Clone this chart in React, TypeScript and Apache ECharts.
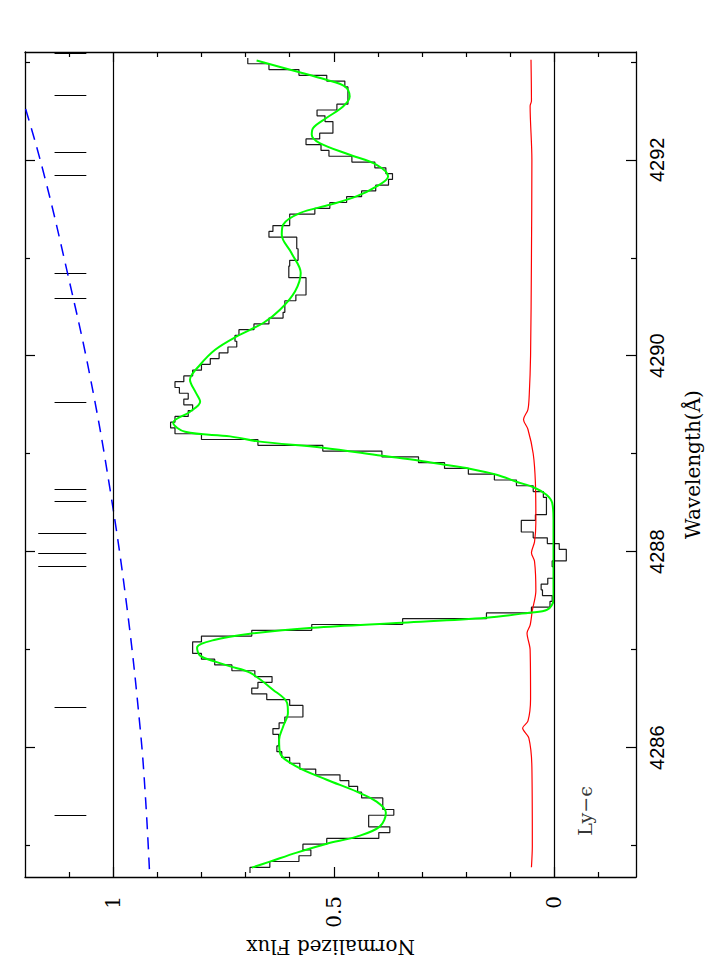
import { useEffect, useRef } from "react";
import * as echarts from "echarts";

// ---------- axes ----------
const fluxMin = -0.185;
const fluxMax = 1.2;
const waveMin = 4284.68;
const waveMax = 4293.1;
const fluxTicks = [0, 0.5, 1];
const fluxMinorTicks = [-0.1, 0.1, 0.2, 0.3, 0.4, 0.6, 0.7, 0.8, 0.9, 1.1];
const waveTicks = [4286, 4288, 4290, 4292];
const waveMinorTicks = [4285, 4287, 4289, 4291, 4293];

// ---------- observed spectrum (histogram, bins from blue to red) ----------
const histStart = 4284.72;
const histBin = 0.059;
const histFlux = [
  0.69, 0.645, 0.579, 0.552, 0.57, 0.516, 0.398, 0.373, 0.421, 0.421,
  0.364, 0.389, 0.389, 0.437, 0.446, 0.466, 0.486, 0.541, 0.577, 0.6,
  0.618, 0.629, 0.625, 0.625, 0.638, 0.624, 0.611, 0.57, 0.57, 0.6,
  0.652, 0.686, 0.672, 0.64, 0.679, 0.731, 0.77, 0.8, 0.82,
  0.82, 0.8, 0.686, 0.55, 0.344, 0.154, 0.052, 0.01, 0.005, 0.027,
  0.03, 0.015, 0.0, 0.0, 0.005, -0.027, -0.027, -0.011, 0.016, 0.048,
  0.075, 0.075, 0.043, 0.018, 0.018, 0.018, 0.025, 0.048, 0.086, 0.136,
  0.195, 0.249, 0.308, 0.391, 0.525, 0.672, 0.8, 0.86, 0.87, 0.86,
  0.83, 0.82, 0.84, 0.83, 0.85, 0.86, 0.84, 0.82, 0.8, 0.78,
  0.76, 0.74, 0.72, 0.724, 0.715, 0.681, 0.647, 0.615, 0.611, 0.611,
  0.586, 0.563, 0.563, 0.563, 0.602, 0.602, 0.6, 0.581, 0.581, 0.584,
  0.584, 0.647, 0.638, 0.6, 0.6, 0.543, 0.509, 0.471, 0.437, 0.405,
  0.376, 0.367, 0.382, 0.407, 0.459, 0.511, 0.529, 0.563, 0.532, 0.502,
  0.502, 0.52, 0.538, 0.493, 0.468, 0.468, 0.468, 0.475, 0.516, 0.579,
  0.647, 0.695,
];

// ---------- fitted model (green) ----------
const modelWave = [
  4293.013, 4292.901, 4292.816, 4292.748, 4292.646, 4292.544, 4292.426, 4292.323,
  4292.255, 4292.17, 4292.051, 4291.949, 4291.83, 4291.728, 4291.626, 4291.541,
  4291.456, 4291.337, 4291.235, 4291.048, 4290.844, 4290.656, 4290.469, 4290.334,
  4290.197, 4290.061, 4289.908, 4289.755, 4289.633, 4289.531, 4289.429, 4289.316,
  4289.224, 4289.177, 4289.126, 4289.061, 4288.98, 4288.929, 4288.888, 4288.847,
  4288.786, 4288.714, 4288.653, 4288.582, 4288.5, 4288.327, 4287.918, 4287.51,
  4287.408, 4287.378, 4287.327, 4287.276, 4287.224, 4287.163, 4287.102, 4287.02,
  4286.939, 4286.878, 4286.83, 4286.765, 4286.592, 4286.459, 4286.357, 4286.214,
  4286.082, 4285.949, 4285.806, 4285.673, 4285.551, 4285.449, 4285.337, 4285.194,
  4285.092, 4285.02, 4284.929, 4284.837, 4284.776,
];
const modelFlux = [
  0.675, 0.584, 0.517, 0.475, 0.464, 0.479, 0.517, 0.547,
  0.55, 0.532, 0.464, 0.403, 0.377, 0.403, 0.449, 0.509,
  0.577, 0.615, 0.618, 0.596, 0.575, 0.588, 0.622, 0.66,
  0.72, 0.769, 0.803, 0.826, 0.814, 0.803, 0.826, 0.864,
  0.837, 0.735, 0.672, 0.525, 0.391, 0.305, 0.249, 0.192,
  0.131, 0.086, 0.045, 0.018, 0.005, 0.002, 0.002, 0.002,
  0.016, 0.057, 0.154, 0.344, 0.548, 0.69, 0.769, 0.81,
  0.803, 0.769, 0.735, 0.69, 0.638, 0.606, 0.604, 0.615,
  0.624, 0.622, 0.584, 0.516, 0.448, 0.403, 0.382, 0.396,
  0.448, 0.516, 0.584, 0.645, 0.686,
];

// ---------- error spectrum (red) ----------
const errWave = [
  4293.02, 4292.6, 4292.55, 4292.0, 4291.0, 4290.0, 4289.6, 4289.45, 4289.35,
  4289.25, 4289.0, 4288.7, 4288.3, 4288.1, 4287.99, 4287.9, 4287.6, 4287.4,
  4287.25, 4287.17, 4287.0, 4286.5, 4286.27, 4286.2, 4286.1, 4285.8, 4285.0, 4284.78,
];
const errFlux = [
  0.053, 0.052, 0.055, 0.051, 0.052, 0.054, 0.057, 0.06, 0.07,
  0.06, 0.048, 0.043, 0.042, 0.045, 0.052, 0.045, 0.042, 0.05,
  0.055, 0.062, 0.055, 0.054, 0.06, 0.072, 0.058, 0.051, 0.05, 0.052,
];

// ---------- continuum (blue dashed) ----------
const contWave = [4284.76, 4285.5, 4286.2, 4287.4, 4288.63, 4289.8, 4290.85, 4291.8, 4292.54, 4292.8];
const contFlux = [0.918, 0.927, 0.939, 0.968, 1.007, 1.053, 1.104, 1.154, 1.2, 1.22];

// ---------- line position markers ----------
const shortMarkerWave = [4293.09, 4292.66, 4292.08, 4291.84, 4290.84, 4290.59, 4289.53, 4288.64, 4288.52, 4286.41, 4285.31];
const longMarkerWave = [4288.19, 4287.98, 4287.85];
const markerInner = 1.061;
const shortMarkerOuter = 1.133;
const longMarkerOuter = 1.17;

const lineLabel = "Ly−ϵ";
const lineLabelPos = [-0.07, 4285.354];

const SERIF = "'DejaVu Serif', serif";
const SANS = "'Liberation Sans', Arial, sans-serif";

function fluxAxis(position: "top" | "bottom", ticks: number[], len: number, main: boolean, label: boolean): any {
  return {
    type: "value",
    position,
    inverse: true,
    min: fluxMin,
    max: fluxMax,
    name: label ? "Normalized Flux" : "",
    nameLocation: "middle",
    nameGap: 60,
    nameRotate: 180,
    nameTextStyle: { fontFamily: SERIF, fontSize: 20, color: "#000" },
    axisLine: { show: main, onZero: false, lineStyle: { color: "#000", width: 1.3 } },
    axisTick: { show: true, inside: true, length: len, customValues: ticks, lineStyle: { color: "#000", width: 1.2 } },
    axisLabel: {
      show: label,
      customValues: ticks,
      rotate: 90,
      margin: 19,
      fontFamily: SERIF,
      fontSize: 20,
      color: "#000",
      formatter: (v: number) => String(v),
    },
    splitLine: { show: false },
  };
}

function waveAxis(position: "left" | "right", ticks: number[], len: number, main: boolean, label: boolean): any {
  return {
    type: "value",
    position,
    min: waveMin,
    max: waveMax,
    name: label ? "Wavelength(Å)" : "",
    nameLocation: "middle",
    nameGap: 47,
    nameRotate: 90,
    nameTextStyle: { fontFamily: SERIF, fontSize: 20, color: "#000" },
    axisLine: { show: main, onZero: false, lineStyle: { color: "#000", width: 1.3 } },
    axisTick: { show: true, inside: true, length: len, customValues: ticks, lineStyle: { color: "#000", width: 1.2 } },
    axisLabel: {
      show: label,
      customValues: ticks,
      rotate: 90,
      margin: 11,
      fontFamily: SANS,
      fontSize: 20,
      color: "#000",
      formatter: (v: number) => String(Math.round(v)),
    },
    splitLine: { show: false },
  };
}

export default function App() {
  const ref = useRef<HTMLDivElement>(null);
  useEffect(() => {
    if (!ref.current) return;
    const chart = echarts.init(ref.current, undefined, { renderer: "svg" });

    const histData: number[][] = [];
    histFlux.forEach((f, i) => {
      const lo = histStart + i * histBin;
      histData.push([f, lo], [f, lo + histBin]);
    });
    const modelData = modelWave.map((w, i) => [modelFlux[i], w]);
    const errData = errWave.map((w, i) => [errFlux[i], w]);
    const contData = contWave.map((w, i) => [contFlux[i], w]);
    const markers = [
      ...shortMarkerWave.map((w) => ({ coords: [[shortMarkerOuter, w], [markerInner, w]] })),
      ...longMarkerWave.map((w) => ({ coords: [[longMarkerOuter, w], [markerInner, w]] })),
    ];

    chart.setOption({
      animation: false,
      backgroundColor: "#fff",
      grid: { left: 25, right: 77, top: 52, bottom: 92, containLabel: false },
      xAxis: [
        fluxAxis("bottom", fluxTicks, 10, true, true),
        fluxAxis("bottom", fluxMinorTicks, 5, false, false),
        fluxAxis("top", fluxTicks, 10, true, false),
        fluxAxis("top", fluxMinorTicks, 5, false, false),
      ],
      yAxis: [
        waveAxis("right", waveTicks, 10, true, true),
        waveAxis("right", waveMinorTicks, 5, false, false),
        waveAxis("left", waveTicks, 10, true, false),
        waveAxis("left", waveMinorTicks, 5, false, false),
      ],
      series: [
        {
          type: "line",
          name: "data",
          data: histData,
          symbol: "none",
          lineStyle: { color: "#1a1a1a", width: 1.2 },
          z: 2,
          markLine: {
            silent: true,
            symbol: "none",
            label: { show: false },
            lineStyle: { color: "#000", type: "solid", width: 1.2 },
            data: [{ xAxis: 0 }, { xAxis: 1 }],
          },
        },
        {
          type: "lines",
          coordinateSystem: "cartesian2d",
          data: markers,
          lineStyle: { color: "#000", width: 1.2, opacity: 1 },
          z: 2,
        },
        {
          type: "line",
          name: "error",
          data: errData,
          symbol: "none",
          smooth: 0.3,
          lineStyle: { color: "#ff0000", width: 1.2 },
          z: 3,
        },
        {
          type: "line",
          name: "continuum",
          data: contData,
          symbol: "none",
          smooth: 0.4,
          lineStyle: { color: "#0000ff", width: 1.5, type: [12, 8] },
          z: 3,
        },
        {
          type: "line",
          name: "model",
          data: modelData,
          symbol: "none",
          smooth: 0.35,
          lineStyle: { color: "#00ff00", width: 2 },
          z: 4,
        },
        {
          type: "scatter",
          data: [lineLabelPos],
          symbolSize: 0,
          label: {
            show: true,
            position: "inside",
            rotate: 90,
            formatter: lineLabel,
            fontFamily: SERIF,
            fontSize: 19,
            color: "#000",
          },
          z: 5,
        },
      ],
    });
    return () => chart.dispose();
  }, []);
  return <div ref={ref} style={{ position: "absolute", left: 0, top: 0, width: 713, height: 969 }} />;
}
